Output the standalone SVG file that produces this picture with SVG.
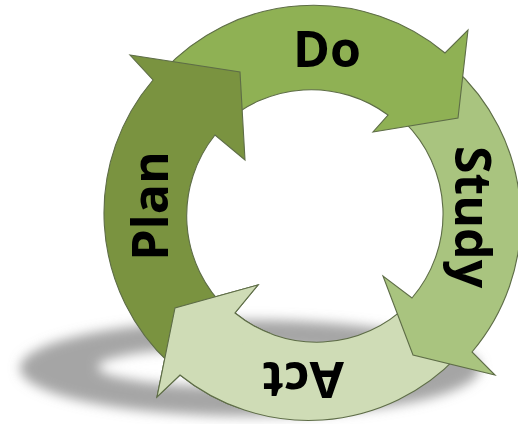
<svg xmlns="http://www.w3.org/2000/svg" xmlns:xlink="http://www.w3.org/1999/xlink" width="518" height="424" viewBox="0 0 518 424">
<defs>
<style>
.lbl{font-family:"Open Sans","DejaVu Sans",sans-serif;font-weight:700;font-size:50px;fill:#000;text-anchor:middle}
</style>
<filter id="blur" x="-20%" y="-60%" width="140%" height="220%"><feGaussianBlur stdDeviation="6"/></filter>
<clipPath id="actHeadClip"><polygon points="140,265 280,265 280,330 240,345 240,424 140,424"/></clipPath>
</defs>
<rect width="518" height="424" fill="#ffffff"/>
<g id="shadow" filter="url(#blur)">
<path d="M 20 368 A 230 48 0 1 0 480 368 A 230 48 0 1 0 20 368 Z M 98 367 A 142 20 0 1 0 382 367 A 142 20 0 1 0 98 367 Z" fill="#8e8e8e" fill-rule="evenodd" opacity="0.8"/>
</g>
<g id="node-act">
<path id="act-shape" d="M 457.5 356.4 A 205 205 0 0 1 180 375 L 157 397 L 175 308 L 258 285 L 235 313 A 129 129 0 0 0 407.8 304.6 Z" fill="#cfdcb6" stroke="#5e6d47" stroke-width="1.1"/>
<text class="lbl" transform="translate(303,362) rotate(180)">Act</text>
</g>
<g id="node-study">
<path d="M 452.4 66.5 A 205 205 0 0 1 472 352 L 495 375 L 413 355 L 383 276 L 412 298 A 129 129 0 0 0 404.6 122.2 Z" fill="#a9c47f" stroke="#5e6d47" stroke-width="1.1"/>
<text class="lbl" transform="translate(455,217) rotate(90)">Study</text>
</g>
<g id="node-do">
<path d="M 162.5 71.6 A 205 205 0 0 1 445 53 L 468 30 L 458 118 L 373 132 L 388 115 A 129 129 0 0 0 222.2 125.4 Z" fill="#8fb154" stroke="#5e6d47" stroke-width="1.1"/>
<text class="lbl" x="327" y="67">Do</text>
</g>
<g id="node-plan">
<path d="M 170.2 363.9 A 205 205 0 0 1 153 80 L 130 55 L 240 72 L 245 160 L 215 135 A 129 129 0 0 0 227 309.3 Z" fill="#7a9340" stroke="#5e6d47" stroke-width="1.1"/>
<text class="lbl" transform="translate(168,206) rotate(-90)">Plan</text>
</g>
<g id="connectors">
<use xlink:href="#act-shape" href="#act-shape" clip-path="url(#actHeadClip)"/>
</g>
</svg>
